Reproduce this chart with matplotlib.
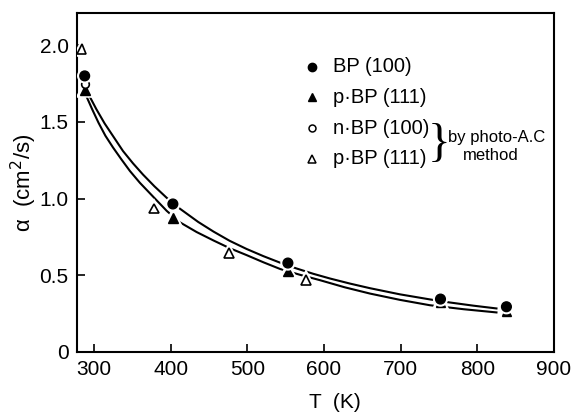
import matplotlib
matplotlib.use("Agg")
import matplotlib.pyplot as plt
import matplotlib.patheffects as pe

plt.rcParams['font.family'] = ['Liberation Sans', 'DejaVu Sans']

# --- data ---
bp100_T = [288, 403, 553, 752, 838]
bp100_a = [1.80, 0.965, 0.58, 0.345, 0.295]

pbp111_T = [288, 403, 553, 752, 838]
pbp111_a = [1.71, 0.875, 0.525, 0.325, 0.265]

nbp100_pa_T = [288]
nbp100_pa_a = [1.75]

pbp111_pa_T = [284, 378, 476, 577]
pbp111_pa_a = [1.975, 0.935, 0.645, 0.47]

# fitted curves
fit_up_T = [293, 303, 314, 326, 338, 351, 364, 379, 395, 412, 436, 456, 477, 499,
            521, 543, 564, 586, 608, 634, 660, 699, 738, 764, 795, 825]
fit_up_a = [1.68, 1.585, 1.49, 1.40, 1.31, 1.23, 1.157, 1.08, 1.005, 0.935, 0.848,
            0.785, 0.725, 0.672, 0.625, 0.582, 0.545, 0.51, 0.479, 0.446, 0.416,
            0.376, 0.343, 0.323, 0.302, 0.284]

fit_lo_T = [290, 298, 306, 315, 325, 336, 347, 360, 373, 395, 412, 434, 456, 477,
            499, 521, 543, 569, 595, 627, 660, 699, 738, 782, 825]
fit_lo_a = [1.67, 1.58, 1.495, 1.41, 1.333, 1.255, 1.18, 1.103, 1.035, 0.92, 0.846,
            0.782, 0.727, 0.677, 0.632, 0.585, 0.541, 0.503, 0.468, 0.422, 0.381,
            0.34, 0.305, 0.279, 0.258]

xticks = [300, 400, 500, 600, 700, 800, 900]
yticks = [0, 0.5, 1.0, 1.5, 2.0]
ytick_labels = ['0', '0.5', '1.0', '1.5', '2.0']

# --- plot ---
fig = plt.figure(figsize=(5.73, 4.13), dpi=100)
ax = fig.add_axes([0.1344, 0.1477, 0.8324, 0.8208])

ax.plot(fit_up_T, fit_up_a, color='black', lw=1.5)
ax.plot(fit_lo_T, fit_lo_a, color='black', lw=1.5)

halo = [pe.withStroke(linewidth=4, foreground='white')]
ax.plot(bp100_T, bp100_a, 'o', color='black', ms=7, ls='none', path_effects=halo, zorder=4)
ax.plot(pbp111_T, pbp111_a, '^', color='black', ms=7, ls='none', path_effects=halo, zorder=3)
ax.plot(nbp100_pa_T, nbp100_pa_a, 'o', mfc='white', mec='black', mew=1.2, ms=5.5, ls='none', zorder=3)
ax.plot(pbp111_pa_T, pbp111_pa_a, '^', mfc='white', mec='black', mew=1.2, ms=7, ls='none',
        path_effects=halo, zorder=3)

ax.set_xlim(278, 900)
ax.set_ylim(0, 2.21)
ax.set_xticks(xticks)
ax.set_yticks(yticks)
ax.set_yticklabels(ytick_labels)
ax.tick_params(direction='in', length=6, width=1.2, labelsize=15, pad=6)
for s in ax.spines.values():
    s.set_linewidth(1.5)

ax.set_xlabel("T  (K)", fontsize=15)
ax.xaxis.set_label_coords(0.541, -0.12)
ax.set_ylabel(r"α  (cm$^2$/s)", fontsize=16)
ax.yaxis.set_label_coords(-0.08, 0.5)

# legend drawn by hand, as in the original
mk_x, tx_x = 584, 612
rows = [1.86, 1.66, 1.46, 1.26]
ax.plot(mk_x, rows[0], 'o', color='black', ms=6)
ax.plot(mk_x, rows[1], '^', color='black', ms=6)
ax.plot(mk_x, rows[2], 'o', mfc='white', mec='black', mew=1.1, ms=5)
ax.plot(mk_x, rows[3], '^', mfc='white', mec='black', mew=1.1, ms=5.5)
labels = ["BP (100)", "p·BP (111)", "n·BP (100)", "p·BP (111)"]
for y, t in zip(rows, labels):
    ax.text(tx_x, y, t, fontsize=14.5, va='center', ha='left')
ax.text(750, 1.35, "}", fontsize=34, va='center', ha='center', family='Liberation Serif')
ax.text(762, 1.40, "by photo-A.C", fontsize=12, va='center', ha='left')
ax.text(818, 1.28, "method", fontsize=12, va='center', ha='center')

plt.savefig("out.png", dpi=100)
